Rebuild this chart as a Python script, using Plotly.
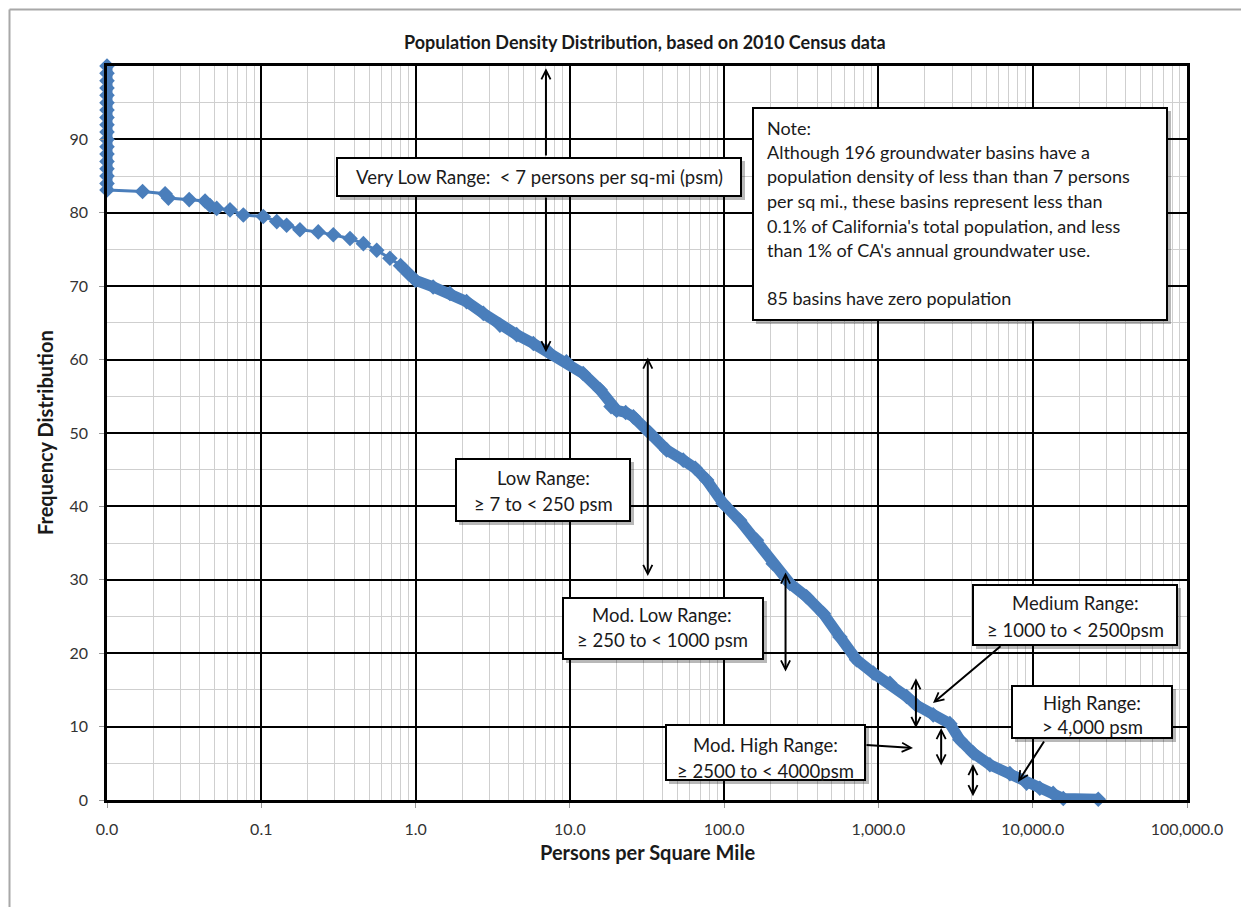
import math
import plotly.graph_objects as go

# ---------------- data ----------------
density = [0.01, 0.01, 0.01, 0.01, 0.01, 0.01, 0.01, 0.01, 0.01, 0.01,
           0.01, 0.01, 0.01, 0.01, 0.01, 0.01, 0.01, 0.01,
           0.017, 0.0238, 0.025, 0.0341, 0.0432, 0.0465, 0.0514, 0.0627,
           0.0765, 0.103, 0.126, 0.146, 0.178, 0.234, 0.293, 0.376, 0.459,
           0.56, 0.682, 0.80, 0.90, 1.0, 1.3, 1.67, 2.14, 2.75, 3.52, 4.52,
           5.8, 7.24, 9.5, 12.2, 15.7, 18.5, 20.1, 23.0, 25.8, 33.0, 42.4,
           54.3, 65.0, 77.0, 98.6, 126, 162, 208, 267, 342, 439, 563, 722,
           926, 1187, 1523, 1766, 2264, 2904, 3373, 4115, 5275, 7110, 9120,
           11120, 13570, 15770, 26600]
frequency = [100, 99, 98, 97, 96, 95, 94, 93, 92, 91,
             90, 89, 88, 87, 86, 85, 84, 83.1,
             82.9, 82.6, 82.0, 81.8, 81.6, 81.0, 80.6, 80.4,
             79.7, 79.5, 78.8, 78.3, 77.7, 77.4, 77.0, 76.5, 75.8,
             74.9, 73.8, 72.8, 71.7, 70.8, 69.9, 69.0, 67.9, 66.3, 64.7, 63.4,
             62.2, 61.1, 59.7, 58.1, 55.9, 53.6, 53.1, 52.8, 52.2, 50.0, 47.7,
             46.3, 45.2, 43.6, 40.4, 38.1, 35.4, 32.2, 29.5, 27.7, 25.4, 22.2, 19.1,
             17.3, 15.9, 14.1, 12.9, 11.6, 10.4, 8.2, 6.4, 4.8, 3.6, 2.3,
             1.6, 0.9, 0.2, 0.1]

x_tick_vals = [0.01, 0.1, 1, 10, 100, 1000, 10000, 100000]
x_tick_text = ["0.0", "0.1", "1.0", "10.0", "100.0", "1,000.0", "10,000.0", "100,000.0"]
y_tick_vals = [0, 10, 20, 30, 40, 50, 60, 70, 80, 90]
y_tick_text = ["0", "10", "20", "30", "40", "50", "60", "70", "80", "90"]

# range arrows: (density, y_head, y_tail, double-headed)
range_arrows = [
    (7, 99.7, 87.6, False),
    (7, 61.0, 82.3, False),
    (32, 60.3, 30.3, True),
    (250, 31.0, 17.3, True),
    (1750, 16.6, 9.6, True),
    (2550, 9.8, 4.5, True),
    (4100, 4.9, 0.3, True),
]

title_text = "Population Density Distribution, based on 2010 Census data"
x_title = "Persons per Square Mile"
y_title = "Frequency Distribution"

note_lines = [
    "Note:",
    "Although 196 groundwater basins have a",
    "population density of less than than 7 persons",
    "per sq mi., these basins represent less than",
    "0.1% of California's total population, and less",
    "than 1% of CA's annual groundwater use.",
    "85 basins have zero population",
]

# ---------------- layout geometry (reference pixels) ----------------
OFF = 8                      # page body margin
W, H = 1249 - OFF, 907 - OFF
L, R, T, B = 107, 1187, 66, 800
FONT = "Lato"
BLUE = "#4A7EBB"
TXT = "#1a1a1a"


def fx(p):
    return (p - L) / (R - L)


def fy(p):
    return (B - p) / (B - T)


fig = go.Figure()

# thick band for the densely packed parts of the curve
band_x, band_y = [], []
for i, v in enumerate(density):
    if v == 0.01:
        band_x.append(v)
        band_y.append(frequency[i])
band_x.append(None)
band_y.append(None)
for i, v in enumerate(density):
    if v >= 0.7:
        band_x.append(v)
        band_y.append(frequency[i])

fig.add_trace(go.Scatter(
    x=band_x, y=band_y, mode="lines", connectgaps=False,
    line=dict(color=BLUE, width=11), hoverinfo="skip",
    showlegend=False, cliponaxis=False))
fig.add_trace(go.Scatter(
    x=density, y=frequency, mode="lines+markers",
    line=dict(color=BLUE, width=3),
    marker=dict(symbol="diamond", size=12, color=BLUE),
    showlegend=False, cliponaxis=False))

shapes = []
frame_col = "#a8a8a8"
shapes.append(dict(type="line", xref="paper", yref="paper", x0=fx(9.5), x1=fx(9.5),
                   y0=fy(9.5), y1=fy(907), line=dict(color=frame_col, width=2)))
shapes.append(dict(type="line", xref="paper", yref="paper", x0=fx(9.5), x1=fx(1249),
                   y0=fy(9.5), y1=fy(9.5), line=dict(color=frame_col, width=2)))
shapes.append(dict(type="line", xref="paper", yref="paper", x0=fx(1244), x1=fx(1244),
                   y0=fy(315), y1=fy(907), line=dict(color="#c8c8c8", width=1.5)))

boxes = {
    "verylow": (337, 158, 741, 196),
    "low": (456, 459, 630, 521),
    "modlow": (563, 598, 763, 659),
    "medium": (973, 585, 1177, 645),
    "high": (1012, 686, 1172, 738),
    "modhigh": (666, 725, 865, 780),
    "note": (753, 108, 1167, 320),
}
for (x0, y0, x1, y1) in boxes.values():
    shapes.append(dict(type="rect", xref="paper", yref="paper", layer="above",
                       x0=fx(x0 + 3), x1=fx(x1 + 4), y0=fy(y0 + 3), y1=fy(y1 + 4),
                       fillcolor="rgba(0,0,0,0.28)", line=dict(width=0)))
    shapes.append(dict(type="rect", xref="paper", yref="paper", layer="above",
                       x0=fx(x0), x1=fx(x1), y0=fy(y0), y1=fy(y1),
                       fillcolor="white", line=dict(color="black", width=2)))

annotations = []


def text(px, py, s, size=18, bold=False, anchor="center", angle=0):
    annotations.append(dict(
        xref="paper", yref="paper", x=fx(px), y=fy(py),
        text=("<b>%s</b>" % s) if bold else s,
        showarrow=False, xanchor=anchor, yanchor="middle", textangle=angle,
        font=dict(family=FONT, size=size, color=TXT)))


text(645, 42, title_text, size=18, bold=True)
text(647, 852, x_title, size=20, bold=True)
text(45, 433, y_title, size=20, bold=True, angle=-90)

BS = 18.5
text(539, 177, "Very Low Range:  &lt; 7 persons per sq-mi (psm)", size=BS)
text(543, 478, "Low Range:", size=BS)
text(543, 504, "≥ 7 to &lt; 250 psm", size=BS)
text(662, 615, "Mod. Low Range:", size=BS)
text(662, 640, "≥ 250 to &lt; 1000 psm", size=BS)
text(1075, 603, "Medium Range:", size=BS)
text(1075, 630, "≥ 1000 to &lt; 2500psm", size=BS)
text(1092, 703, "High Range:", size=BS)
text(1092, 727, "&gt; 4,000 psm", size=BS)
text(765, 745, "Mod. High Range:", size=BS)
text(765, 771, "≥ 2500 to &lt; 4000psm", size=BS)

note_y = [128, 152, 176, 201, 226, 250, 298]
for s, yy in zip(note_lines, note_y):
    text(765, yy, s, size=18, anchor="left")

for (xv, yh, yt, both) in range_arrows:
    annotations.append(dict(
        xref="x", yref="y", axref="x", ayref="y",
        x=math.log10(xv), y=yh, ax=math.log10(xv), ay=yt, text="",
        showarrow=True, arrowhead=5, startarrowhead=5,
        arrowside="end+start" if both else "end",
        arrowsize=0.9, arrowwidth=2, arrowcolor="black"))

pointers = [((933, 703), (1002, 645)), ((913, 748), (865, 745)), ((1018, 782), (1045, 740))]
for (hx, hy), (tx, ty) in pointers:
    annotations.append(dict(
        xref="paper", yref="paper", axref="pixel", ayref="pixel",
        x=fx(hx), y=fy(hy), ax=tx - hx, ay=ty - hy, text="",
        showarrow=True, arrowhead=5, arrowsize=0.9, arrowwidth=2, arrowcolor="black"))

fig.update_layout(
    width=W, height=H,
    margin=dict(l=L - OFF, r=(W + OFF) - R, t=T - OFF, b=(H + OFF) - B, pad=0),
    paper_bgcolor="white", plot_bgcolor="white",
    font=dict(family=FONT, size=16, color="#333333"),
    shapes=shapes, annotations=annotations,
    showlegend=False,
)
fig.update_xaxes(
    type="log", range=[-2, 5],
    tickmode="array", tickvals=x_tick_vals, ticktext=x_tick_text,
    showgrid=True, gridcolor="black", gridwidth=1.5,
    minor=dict(dtick="D1", showgrid=True, gridcolor="#cfcfcf", gridwidth=1.2, ticks=""),
    showline=True, linecolor="black", linewidth=2.5, mirror=True,
    ticks="outside", ticklen=5, tickcolor="#999999", ticklabelstandoff=8,
    tickfont=dict(family=FONT, size=16, color="#333333"),
    zeroline=False,
)
fig.update_yaxes(
    range=[0, 100],
    tickmode="array", tickvals=y_tick_vals, ticktext=y_tick_text,
    showgrid=True, gridcolor="black", gridwidth=1.5,
    minor=dict(tickmode="linear", tick0=0, dtick=5, showgrid=True, gridcolor="#cfcfcf",
               gridwidth=1.2, ticks=""),
    showline=True, linecolor="black", linewidth=2.5, mirror=True,
    ticks="outside", ticklen=5, tickcolor="#999999", ticklabelstandoff=8,
    tickfont=dict(family=FONT, size=16, color="#333333"),
    zeroline=False,
)

fig.write_html("out.html")
